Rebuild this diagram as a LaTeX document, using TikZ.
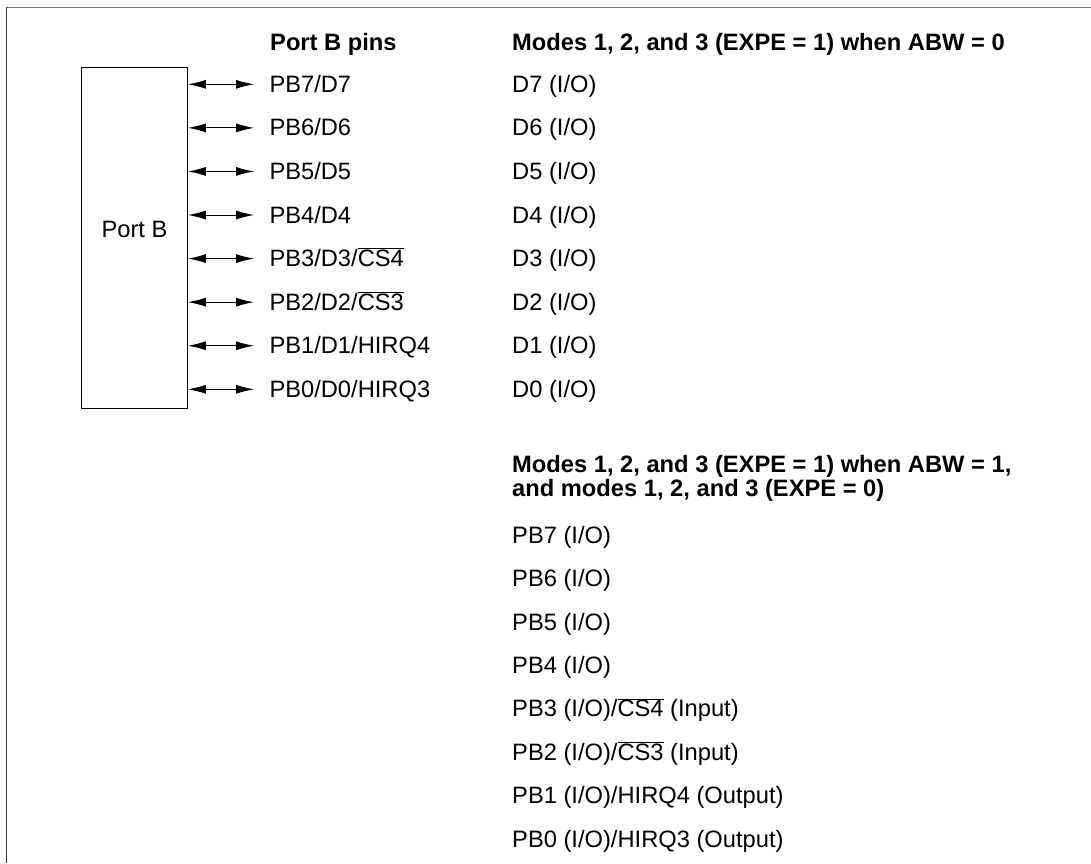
\documentclass[tikz,border=0pt]{standalone}
\usepackage{fontspec}
\setmainfont{Liberation Sans}
\usetikzlibrary{arrows.meta}
\newcommand{\ovl}[1]{\ensuremath{\overline{\hbox{#1}}}}
\tikzset{
  txt/.style={anchor=base west, inner sep=0pt, font=\fontsize{23.7}{24.5}\selectfont},
  hdr/.style={txt, font=\fontsize{23.7}{24.5}\selectfont\bfseries},
  pinarrow/.style={{Latex[length=18pt,width=9pt]}-{Latex[length=18pt,width=9pt]}, line width=1pt},
  frame/.style={line width=1.5pt}
}
\begin{document}
\begin{tikzpicture}[x=1pt,y=-1pt]
\useasboundingbox (0,0) rectangle (1091,863);
% partial frame
\coordinate (fTL) at (6.3,7.3);
\coordinate (fTR) at (1091,7.3);
\coordinate (fBL) at (6.3,863);
\draw[frame, draw=black!55] (fTL) -- (fTR);
\draw[frame, draw=black!80] (fTL) -- (fBL);

% headers
\node[hdr] (hpins) at (270,50) {Port B pins};
\node[hdr] (hmodeA) at (512,50) {Modes 1, 2, and 3 (EXPE = 1) when ABW = 0};

% Port B box
\node[draw, line width=1.2pt, minimum width=105.6pt, minimum height=340.6pt, inner sep=0pt] (portbox) at (134.5,238) {};
\node[anchor=base, inner sep=0pt, font=\fontsize{23.7}{24.5}\selectfont] (portlbl) at (134.5,237.3) {Port B};

% pin rows
\node[txt] (p7) at (269.3,{92.3+0*43.57}) {PB7/D7};
\node[txt] (p6) at (269.3,{92.3+1*43.57}) {PB6/D6};
\node[txt] (p5) at (269.3,{92.3+2*43.57}) {PB5/D5};
\node[txt] (p4) at (269.3,{92.3+3*43.57}) {PB4/D4};
\node[txt] (p3) at (269.3,{92.3+4*43.57}) {PB3/D3/\ovl{CS4}};
\node[txt] (p2) at (269.3,{92.3+5*43.57}) {PB2/D2/\ovl{CS3}};
\node[txt] (p1) at (269.3,{92.3+6*43.57}) {PB1/D1/HIRQ4};
\node[txt] (p0) at (269.3,{92.3+7*43.57}) {PB0/D0/HIRQ3};

\node[txt] (d7) at (512,{92.3+0*43.57}) {D7 (I/O)};
\node[txt] (d6) at (512,{92.3+1*43.57}) {D6 (I/O)};
\node[txt] (d5) at (512,{92.3+2*43.57}) {D5 (I/O)};
\node[txt] (d4) at (512,{92.3+3*43.57}) {D4 (I/O)};
\node[txt] (d3) at (512,{92.3+4*43.57}) {D3 (I/O)};
\node[txt] (d2) at (512,{92.3+5*43.57}) {D2 (I/O)};
\node[txt] (d1) at (512,{92.3+6*43.57}) {D1 (I/O)};
\node[txt] (d0) at (512,{92.3+7*43.57}) {D0 (I/O)};

% arrows
\foreach \k in {0,...,7}{
  \coordinate (a\k) at (254,{84.3+\k*43.57});
  \draw[pinarrow] (portbox.east |- a\k) -- (a\k);
}

% second section
\node[hdr] (hmodeB1) at (512,472.3) {Modes 1, 2, and 3 (EXPE = 1) when ABW = 1,};
\node[hdr] (hmodeB2) at (512,496.7) {and modes 1, 2, and 3 (EXPE = 0)};

\node[txt] (q7) at (512,{543.3+0*43.4}) {PB7 (I/O)};
\node[txt] (q6) at (512,{543.3+1*43.4}) {PB6 (I/O)};
\node[txt] (q5) at (512,{543.3+2*43.4}) {PB5 (I/O)};
\node[txt] (q4) at (512,{543.3+3*43.4}) {PB4 (I/O)};
\node[txt] (q3) at (512,{543.3+4*43.4}) {PB3 (I/O)/\ovl{CS4} (Input)};
\node[txt] (q2) at (512,{543.3+5*43.4}) {PB2 (I/O)/\ovl{CS3} (Input)};
\node[txt] (q1) at (512,{543.3+6*43.4}) {PB1 (I/O)/HIRQ4 (Output)};
\node[txt] (q0) at (512,{543.3+7*43.4}) {PB0 (I/O)/HIRQ3 (Output)};
\end{tikzpicture}
\end{document}
